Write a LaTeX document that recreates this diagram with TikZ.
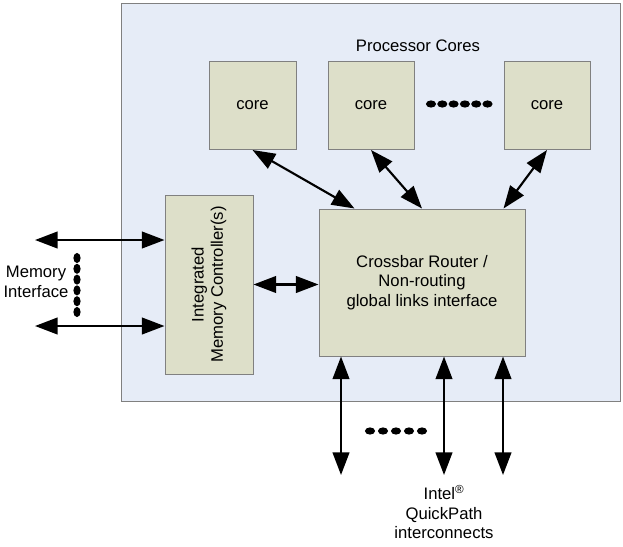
\documentclass[tikz,border=0pt]{standalone}
\usepackage{fontspec}
\setmainfont{Liberation Sans}
\usetikzlibrary{arrows.meta}

\definecolor{chipfill}{RGB}{230,236,247}
\definecolor{boxfill}{RGB}{221,223,201}
\definecolor{edgegray}{RGB}{128,128,128}

\tikzset{
  unit/.style={draw=edgegray, fill=boxfill, line width=0.75pt, inner sep=0pt, align=center},
  link/.style={line width=1.6pt, {Triangle[length=17pt,width=12.5pt]}-{Triangle[length=17pt,width=12.5pt]}}
}

\begin{document}
\begin{tikzpicture}[x=0.75pt,y=-0.75pt,font=\fontsize{12.5}{14.5}\selectfont]
\useasboundingbox (0,0) rectangle (623,546);
% chip
\node[draw=edgegray, fill=chipfill, line width=0.75pt, inner sep=0pt,
      minimum width=499*0.75pt, minimum height=398*0.75pt] (chip) at (370.5,202) {};
\node (pc) at (418,46) {Processor Cores};

% cores
\node[unit, minimum width=87*0.75pt, minimum height=88*0.75pt] (c1) at (252.5,105.5) {core};
\node[unit, minimum width=86*0.75pt, minimum height=88*0.75pt] (c2) at (371,105.5) {core};
\node[unit, minimum width=86*0.75pt, minimum height=88*0.75pt] (c3) at (547,105.5) {core};
\foreach \i in {0,...,5}
   \fill (431+\i*11.3,104) ellipse (3.8pt and 2.7pt);

% router and memory controller
\node[unit, minimum width=206*0.75pt, minimum height=147*0.75pt] (xbar) at (422,282.5)
     {Crossbar Router /\\Non-routing\\global links interface};
\node[unit, minimum width=88*0.75pt, minimum height=179*0.75pt] (mc) at (209,284.5) {};
\node[rotate=90, align=center] (mctext) at (mc.center) {Integrated\\Memory Controller(s)};

% links
\draw[link] (c1.south) -- ([xshift=27pt]xbar.north west);
\draw[link] (c2.south) -- (xbar.north);
\draw[link] (c3.south) -- ([xshift=-16.5pt]xbar.north east);
\draw[link] (mc.east) -- (mc.east -| xbar.west);

% memory interface
\coordinate (m1) at (35,240);
\coordinate (m2) at (35,326);
\draw[link] (m1) -- (m1 -| mc.west);
\draw[link] (m2) -- (m2 -| mc.west);
\foreach \i in {0,...,5}
   \fill (77,258+\i*10.8) ellipse (2.7pt and 3.8pt);
\node[align=center, font=\fontsize{12.5}{15}\selectfont] (memif) at (36,282) {Memory\\Interface};

% QuickPath
\coordinate (q1) at (341,475);
\coordinate (q2) at (444,475);
\coordinate (q3) at (503,475);
\foreach \q in {q1,q2,q3}
   \draw[link] (\q |- xbar.south) -- (\q);
\foreach \i in {0,...,4}
   \fill (370+\i*13,431) ellipse (3.8pt and 2.7pt);
\node[align=center, anchor=north] (qpi) at (444,481)
     {Intel\textsuperscript{\textregistered}\\QuickPath\\interconnects};
\end{tikzpicture}
\end{document}
